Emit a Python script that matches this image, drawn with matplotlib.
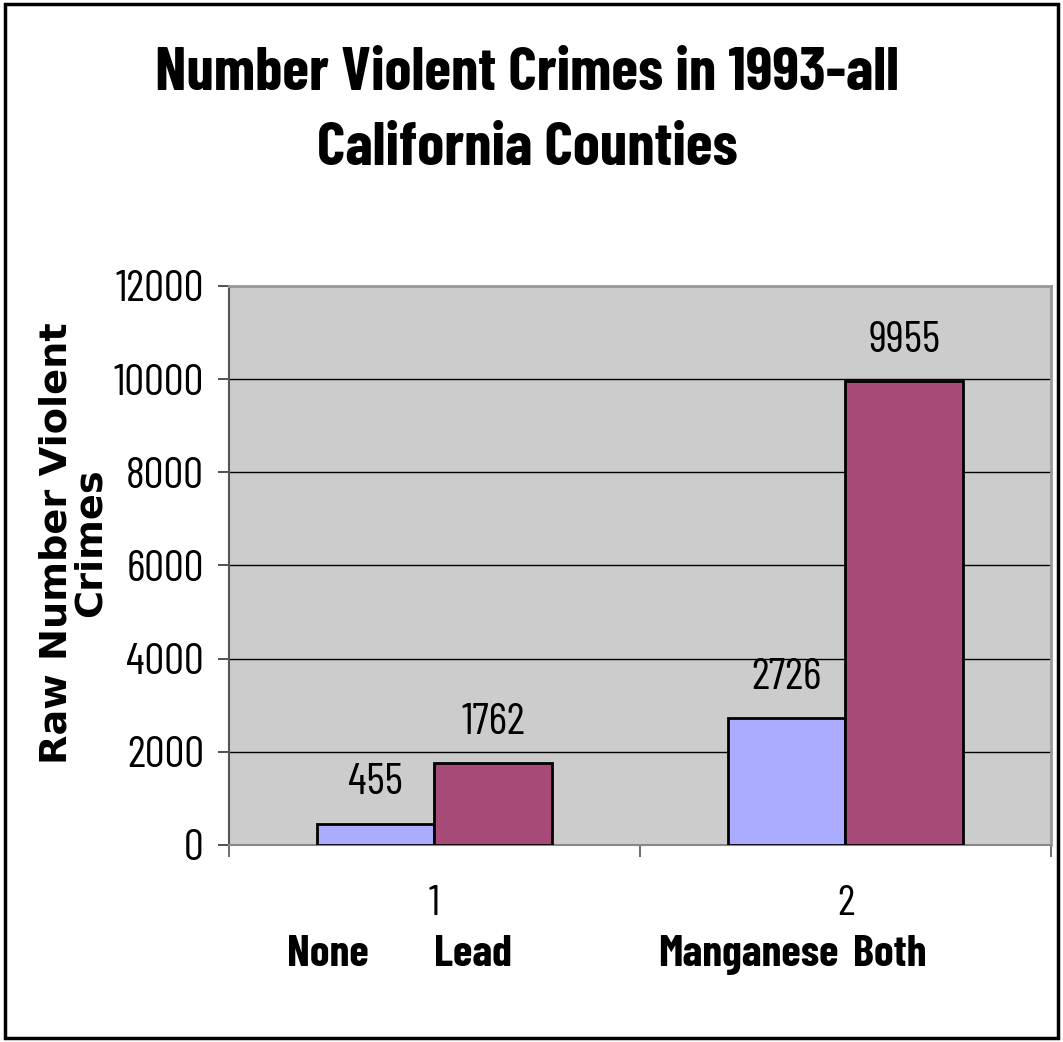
import numpy as np
import matplotlib
matplotlib.use("Agg")
import matplotlib.pyplot as plt
from matplotlib.patches import Rectangle

# data
groups = ["1", "2"]
first_values = [455, 2726]
second_values = [1762, 9955]
bar_names = ["None", "Lead", "Manganese", "Both"]
y_ticks = [0, 2000, 4000, 6000, 8000, 10000, 12000]

narrow = ["Barlow Condensed", "DejaVu Sans"]

fig = plt.figure(figsize=(10.63, 10.42), dpi=100)
ax = fig.add_axes([0.2154, 0.1891, 0.7733, 0.5365])
ax.set_facecolor("#cccccc")

x = np.arange(len(groups))
w = 0.2857
b1 = ax.bar(x - w / 2, first_values, w, color="#aaaaff", edgecolor="black", linewidth=2, zorder=3)
b2 = ax.bar(x + w / 2, second_values, w, color="#a84a78", edgecolor="black", linewidth=2, zorder=3)

for bars, vals in [(b1, first_values), (b2, second_values)]:
    for r, v in zip(bars, vals):
        ax.annotate(str(v), (r.get_x() + r.get_width() / 2, v), xytext=(0, 29),
                    textcoords="offset points", ha="center", va="center",
                    fontsize=32, family=narrow)

ax.set_ylim(0, 12000)
ax.set_xlim(-0.5, 1.5)
ax.set_yticks(y_ticks)
ax.set_yticklabels([str(t) for t in y_ticks], fontsize=32, family=narrow)
ax.yaxis.grid(True, color="black", linewidth=1.0, zorder=1)
ax.set_axisbelow(True)
ax.tick_params(axis="y", length=8, width=1.2, color="#333333", pad=10)

ax.set_xticks(x)
ax.set_xticklabels([])
ax.tick_params(axis="x", which="major", length=0)
ax.set_xticks([-0.5, 0.5, 1.5], minor=True)
ax.tick_params(axis="x", which="minor", length=8.5, width=1.2, color="#555555")
for xi, g in zip(x, groups):
    ax.text(xi, -0.106, g, transform=ax.get_xaxis_transform(), ha="center", va="center",
            fontsize=31, family=narrow)

# category words typed under the groups
name_x = [-0.259, 0.094, 0.763, 1.108]
for nx, name in zip(name_x, bar_names):
    ax.text(nx, -0.196, name, transform=ax.get_xaxis_transform(), ha="center", va="center",
            fontsize=32, fontweight="bold", family=narrow)

for side in ["top", "right"]:
    ax.spines[side].set_color("#999999")
    ax.spines[side].set_linewidth(2)
ax.spines["left"].set_color("#555555")
ax.spines["bottom"].set_color("#888888")
ax.spines["left"].set_linewidth(1.5)
ax.spines["bottom"].set_linewidth(1.5)

fig.text(0.069, 0.479, "Raw Number Violent\nCrimes", rotation=90, ha="center", va="center",
         fontsize=27.5, fontweight="bold", family="DejaVu Sans", linespacing=0.92)

fig.text(0.496, 0.893, "Number Violent Crimes in 1993-all\nCalifornia Counties",
         ha="center", va="center", fontsize=44, fontweight="bold", linespacing=1.5, family=narrow)

fig.patches.append(Rectangle((0.005, 0.004), 0.99, 0.992, transform=fig.transFigure,
                             fill=False, edgecolor="black", linewidth=2.5))

fig.savefig("out.png", dpi=100, facecolor="white")
